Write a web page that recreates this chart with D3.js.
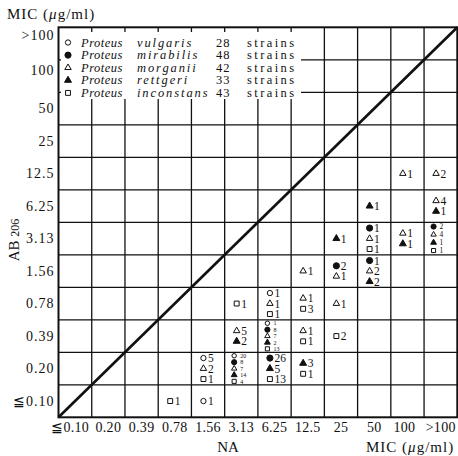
<!DOCTYPE html>
<html>
<head>
<meta charset="utf-8">
<script src="https://cdn.jsdelivr.net/npm/d3@7"></script>
<style>
  body { margin: 0; background: #fff; }
  text { font-family: "Liberation Serif", "DejaVu Serif", serif; fill: #111; }
</style>
</head>
<body>
<svg width="458" height="456"></svg>
<script>
// MIC levels shared by both axes (NA across, AB 206 up)
const levels = ["≦0.10", "0.20", "0.39", "0.78", "1.56", "3.13", "6.25", "12.5", "25", "50", "100", ">100"];

const genus = "Proteus";
const speciesNames = ["vulgaris", "mirabilis", "morganii", "rettgeri", "inconstans"];
const strainCounts = [28, 48, 42, 33, 43];

// [NA, AB206, number of strains]
const vulgaris = [["1.56", "≦0.10", 1], ["1.56", "0.20", 5], ["3.13", "0.20", 20], ["6.25", "0.39", 1], ["6.25", "0.78", 1]];
const mirabilis = [["3.13", "0.20", 8], ["6.25", "0.20", 26], ["6.25", "0.39", 8], ["25", "1.56", 2], ["50", "1.56", 1],
  ["50", "3.13", 1], [">100", "3.13", 2]];
const morganii = [["1.56", "0.20", 2], ["3.13", "0.20", 7], ["3.13", "0.39", 5], ["6.25", "0.39", 7], ["12.5", "0.39", 1],
  ["6.25", "0.78", 1], ["12.5", "0.78", 1], ["25", "0.78", 1], ["12.5", "1.56", 1], ["25", "1.56", 1], ["50", "1.56", 2],
  ["50", "3.13", 1], ["100", "3.13", 1], [">100", "3.13", 4], [">100", "6.25", 4], ["100", "12.5", 1], [">100", "12.5", 2]];
const rettgeri = [["3.13", "0.20", 14], ["6.25", "0.20", 5], ["12.5", "0.20", 3], ["3.13", "0.39", 2], ["6.25", "0.39", 2],
  ["50", "1.56", 2], ["25", "3.13", 1], ["100", "3.13", 1], [">100", "3.13", 1], ["50", "6.25", 1], [">100", "6.25", 1]];
const inconstans = [["0.78", "≦0.10", 1], ["1.56", "0.20", 1], ["3.13", "0.20", 4], ["6.25", "0.20", 13], ["12.5", "0.20", 1],
  ["6.25", "0.39", 13], ["12.5", "0.39", 1], ["25", "0.39", 2], ["3.13", "0.78", 1], ["6.25", "0.78", 1], ["12.5", "0.78", 3],
  ["50", "3.13", 1], [">100", "3.13", 1]];

const seriesData = [vulgaris, mirabilis, morganii, rettgeri, inconstans];
const markers = [
  { type: d3.symbolCircle, filled: false, size: 22 },
  { type: d3.symbolCircle, filled: true, size: 30 },
  { type: d3.symbolTriangle, filled: false, size: 18 },
  { type: d3.symbolTriangle, filled: true, size: 21 },
  { type: d3.symbolSquare, filled: false, size: 24 }
];

const svg = d3.select("svg");
const x = d3.scaleBand().domain(levels).range([58.5, 457.3]);
const y = d3.scaleBand().domain(levels).range([417.3, 27.3]);
const [x0, x1] = x.range();
const [y0, y1] = y.range();

// grid
const grid = svg.append("g").attr("stroke", "#111").attr("stroke-width", 1.3);
grid.selectAll(".v").data(levels.slice(1)).join("line")
    .attr("x1", d => x(d)).attr("x2", d => x(d))
    .attr("y1", y1).attr("y2", y0);
grid.selectAll(".h").data(levels.slice(0, -1)).join("line")
    .attr("x1", x0).attr("x2", x1)
    .attr("y1", d => y(d)).attr("y2", d => y(d));
svg.append("rect")
    .attr("x", x0).attr("y", y1)
    .attr("width", x1 - x0).attr("height", y0 - y1)
    .attr("fill", "none").attr("stroke", "#111").attr("stroke-width", 2);

// legend (pasted over the top-left cells)
const legend = svg.append("g");
legend.append("rect")
    .attr("x", 61).attr("y", 32).attr("width", 240).attr("height", 67)
    .attr("fill", "#fff");
const row = legend.selectAll("g.item").data(speciesNames).join("g")
    .attr("transform", (d, i) => `translate(0,${46.5 + i * 12.6})`);
row.append("path")
    .attr("transform", "translate(68,-4)")
    .attr("d", (d, i) => d3.symbol(markers[i].type, markers[i].size)())
    .attr("fill", (d, i) => markers[i].filled ? "#111" : "#fff")
    .attr("stroke", "#111").attr("stroke-width", 1);
row.append("text").attr("x", 81).attr("font-size", 12.5).attr("font-style", "italic")
    .attr("letter-spacing", 0.5).text(genus);
row.append("text").attr("x", 137).attr("font-size", 12.5).attr("font-style", "italic")
    .attr("letter-spacing", 1.9).text(d => d);
row.append("text").attr("x", 216).attr("font-size", 12.5).attr("letter-spacing", 1)
    .text((d, i) => strainCounts[i]);
row.append("text").attr("x", 247).attr("font-size", 12.5).attr("letter-spacing", 2.4)
    .text("strains");

// diagonal (equal MIC)
svg.append("line")
    .attr("x1", x0).attr("y1", y0).attr("x2", x1).attr("y2", y1)
    .attr("stroke", "#111").attr("stroke-width", 2.6);

// cells: group entries by NA/AB206 pair, keep species order
const cells = d3.rollups(
  seriesData.flatMap((list, s) => list.map(([na, ab, n]) => ({ na, ab, n, s }))),
  v => v.sort((a, b) => a.s - b.s),
  d => d.na + "|" + d.ab
);

cells.forEach(([key, items]) => {
  const k = items.length;
  const step = k <= 3 ? 10.5 : 32 / k;
  const small = k >= 4;
  const fs = k >= 5 ? 6 : k === 4 ? 7.5 : 11.5;
  const left = x(items[0].na);
  const cy = y(items[0].ab) + y.bandwidth() / 2;
  const g = svg.append("g");
  items.forEach((it, j) => {
    const yy = cy + (j - (k - 1) / 2) * step;
    const m = markers[it.s];
    g.append("path")
        .attr("transform", `translate(${left + (small ? 9.5 : 12)},${yy})`)
        .attr("d", d3.symbol(m.type, small ? m.size * 0.7 : m.size)())
        .attr("fill", m.filled ? "#111" : "#fff")
        .attr("stroke", "#111").attr("stroke-width", 1);
    g.append("text")
        .attr("x", left + (small ? 15.5 : 16.5))
        .attr("y", yy + fs * 0.36)
        .attr("font-size", fs)
        .text(it.n);
  });
});

// axis labels (a few sit slightly off-centre in the original)
const yNudge = { ">100": -8, "100": -6 };
const xNudge = { "≦0.10": -5, "100": -3 };
const yAxis = svg.append("g")
    .attr("transform", `translate(${x0 - 4},0)`)
    .call(d3.axisLeft(y).tickSize(0).tickPadding(0));
yAxis.select(".domain").remove();
yAxis.selectAll("text")
    .attr("font-size", 14).attr("letter-spacing", 1)
    .attr("font-family", "Liberation Serif").attr("fill", "#111")
    .attr("y", d => yNudge[d] || 0);

const xAxis = svg.append("g")
    .attr("transform", `translate(0,${y0 + 5})`)
    .call(d3.axisBottom(x).tickSize(0).tickPadding(0));
xAxis.select(".domain").remove();
xAxis.selectAll("text")
    .attr("font-size", 14).attr("letter-spacing", 0.3)
    .attr("font-family", "Liberation Serif").attr("fill", "#111")
    .attr("x", d => xNudge[d] || 0);

svg.append("text").attr("x", 7).attr("y", 19).attr("font-size", 15).attr("letter-spacing", 1)
    .html('MIC (<tspan font-style="italic">μ</tspan>g/ml)');
svg.append("text").attr("x", 366).attr("y", 452).attr("font-size", 15).attr("letter-spacing", 1)
    .html('MIC (<tspan font-style="italic">μ</tspan>g/ml)');
svg.append("text").attr("x", 228).attr("y", 452).attr("font-size", 15)
    .attr("text-anchor", "middle").text("NA");

const abLabel = svg.append("text")
    .attr("transform", "translate(19,240) rotate(-90)")
    .attr("text-anchor", "middle").attr("font-size", 15);
abLabel.append("tspan").text("AB ");
abLabel.append("tspan").attr("font-size", 12).text("206");
</script>
</body>
</html>
